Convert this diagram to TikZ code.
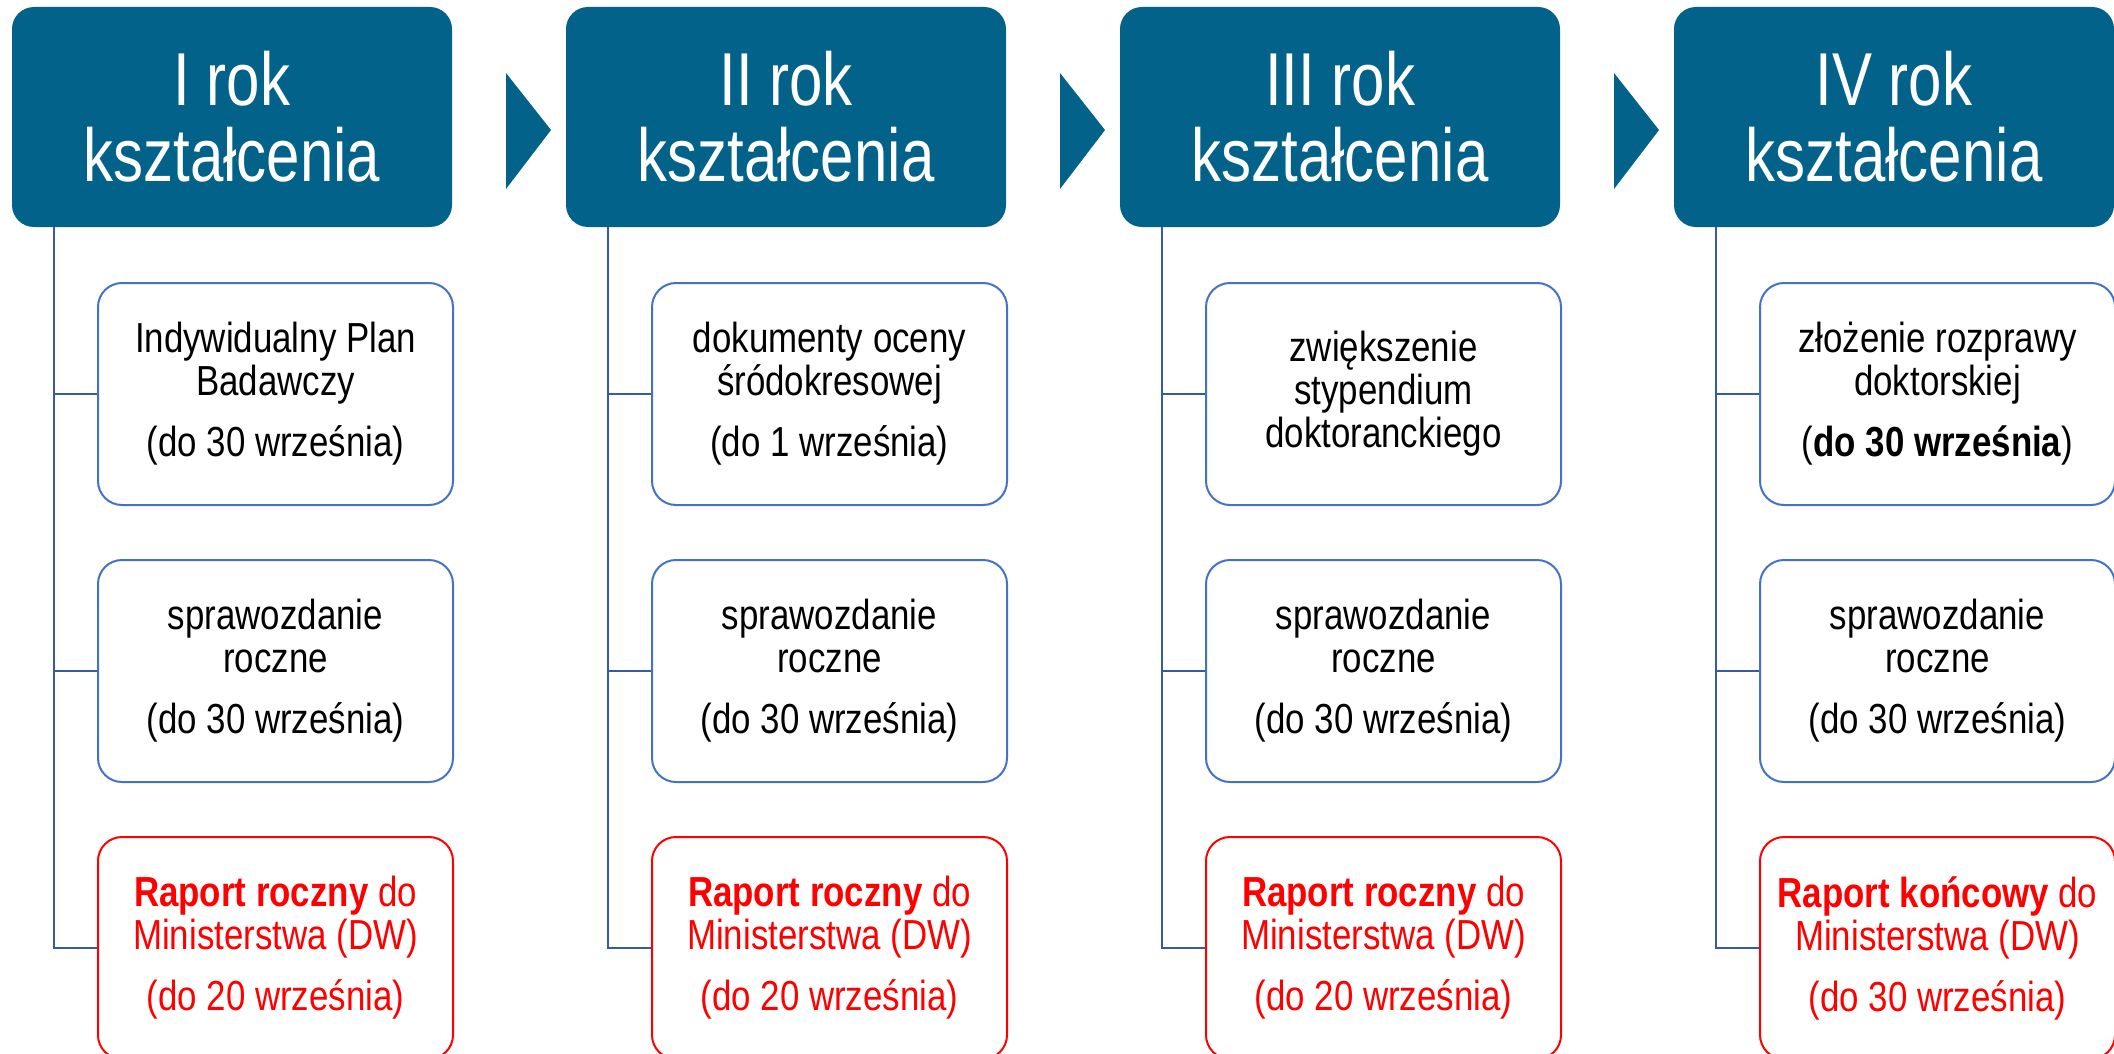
\documentclass[tikz,border=0pt]{standalone}
\usepackage{fontspec}
\setmainfont{Liberation Sans}[FakeStretch=0.83]
\newfontfamily\yearfont{Liberation Sans}[FakeStretch=0.80]
\usetikzlibrary{positioning}
\definecolor{hdrblue}{RGB}{3,98,138}
\definecolor{boxblue}{RGB}{68,114,196}
\definecolor{linkblue}{RGB}{55,90,165}
\definecolor{rptred}{RGB}{255,0,0}

\begin{document}
\begin{tikzpicture}[x=0.5pt, y=-0.5pt,
    year/.style = {shape=rectangle, rounded corners=11pt, fill=hdrblue,
      text=white, align=center, minimum width=220pt, minimum height=110pt,
      font=\yearfont\fontsize{37.5}{38}\selectfont},
    task/.style = {shape=rectangle, rounded corners=12pt, draw=boxblue,
      line width=1pt, fill=white, align=center, minimum width=177.5pt,
      minimum height=111pt, font=\fontsize{21}{21.5}\selectfont},
    report/.style = {task, draw=rptred, text=rptred},
    trunk/.style = {draw=linkblue, line width=1pt},
    chevron/.style = {fill=hdrblue}]
    \useasboundingbox (0,0) rectangle (2114,1054);

    % I rok
    \begin{scope}[shift={(0,0)}]
        \node[year] (y1) at (232,117) {I rok\\kształcenia};
        \node[task] (y1a) at (275.5,394) {Indywidualny Plan\\Badawczy\\[9pt](do 30 września)};
        \node[task] (y1b) at (275.5,671) {sprawozdanie\\roczne\\[9pt](do 30 września)};
        \node[report] (y1c) at (275.5,948) {\textbf{Raport roczny} do\\Ministerstwa (DW)\\[9pt](do 20 września)};
        \coordinate (t1) at (54,227);
        \fill[chevron] (506,73) -- (551,130) -- (506,189) -- cycle;
    \end{scope}

    % II rok
    \begin{scope}[shift={(554,0)}]
        \node[year] (y2) at (232,117) {II rok\\kształcenia};
        \node[task] (y2a) at (275.5,394) {dokumenty oceny\\śródokresowej\\[9pt](do 1 września)};
        \node[task] (y2b) at (275.5,671) {sprawozdanie\\roczne\\[9pt](do 30 września)};
        \node[report] (y2c) at (275.5,948) {\textbf{Raport roczny} do\\Ministerstwa (DW)\\[9pt](do 20 września)};
        \coordinate (t2) at (54,227);
        \fill[chevron] (506,73) -- (551,130) -- (506,189) -- cycle;
    \end{scope}

    % III rok
    \begin{scope}[shift={(1108,0)}]
        \node[year] (y3) at (232,117) {III rok\\kształcenia};
        \node[task] (y3a) at (275.5,394) {zwiększenie\\stypendium\\doktoranckiego};
        \node[task] (y3b) at (275.5,671) {sprawozdanie\\roczne\\[9pt](do 30 września)};
        \node[report] (y3c) at (275.5,948) {\textbf{Raport roczny} do\\Ministerstwa (DW)\\[9pt](do 20 września)};
        \coordinate (t3) at (54,227);
        \fill[chevron] (506,73) -- (551,130) -- (506,189) -- cycle;
    \end{scope}

    % IV rok
    \begin{scope}[shift={(1662,0)}]
        \node[year] (y4) at (232,117) {IV rok\\kształcenia};
        \node[task] (y4a) at (275.5,394) {złożenie rozprawy\\doktorskiej\\[9pt](\textbf{do 30 września})};
        \node[task] (y4b) at (275.5,671) {sprawozdanie\\roczne\\[9pt](do 30 września)};
        \node[report] (y4c) at (275.5,948) {\textbf{Raport końcowy} do\\Ministerstwa (DW)\\[9pt](do 30 września)};
        \coordinate (t4) at (54,227);
    \end{scope}

    \draw[trunk] (t1) |- (y1a.west);
    \draw[trunk] (t1) |- (y1b.west);
    \draw[trunk] (t1) |- (y1c.west);
    \draw[trunk] (t2) |- (y2a.west);
    \draw[trunk] (t2) |- (y2b.west);
    \draw[trunk] (t2) |- (y2c.west);
    \draw[trunk] (t3) |- (y3a.west);
    \draw[trunk] (t3) |- (y3b.west);
    \draw[trunk] (t3) |- (y3c.west);
    \draw[trunk] (t4) |- (y4a.west);
    \draw[trunk] (t4) |- (y4b.west);
    \draw[trunk] (t4) |- (y4c.west);
\end{tikzpicture}
\end{document}
